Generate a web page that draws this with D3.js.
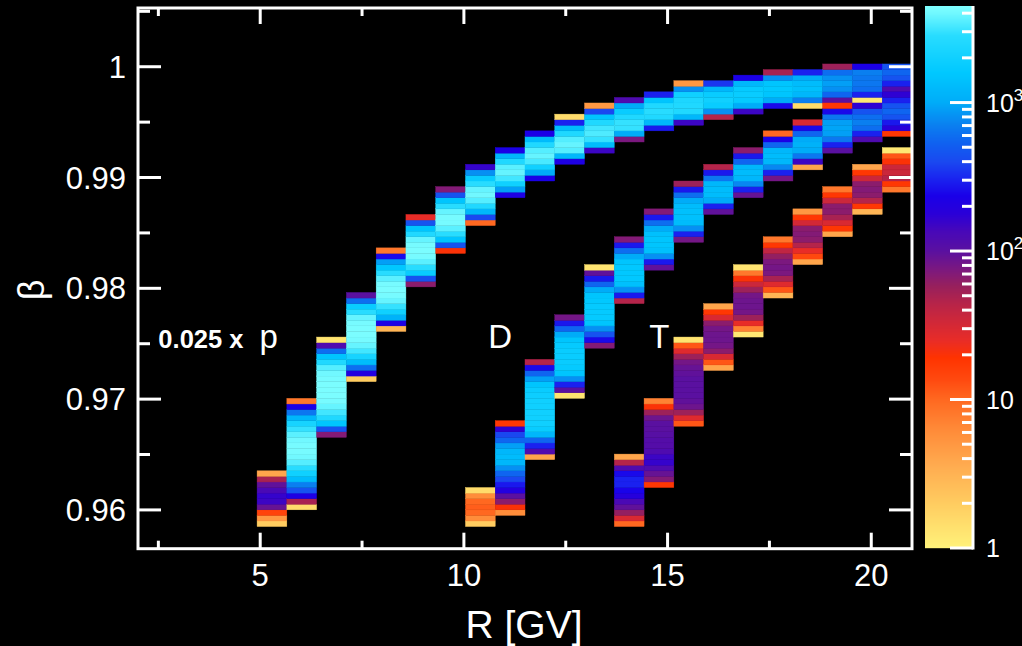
<!DOCTYPE html>
<html><head><meta charset="utf-8">
<script src="https://cdn.jsdelivr.net/npm/d3@7"></script>
<style>
html,body{margin:0;padding:0;background:#000;}
svg{display:block;}
text{font-family:"Liberation Sans",Arial,Helvetica,sans-serif;fill:#fff;}
</style>
</head><body>
<svg id="chart" width="1022" height="646"></svg>
<script>
// Rigidity binning: 26 equal bins between 2 and 21 GV
const R_RANGE = [2, 21];
const R_BINS = 26;
// Velocity binning: rows counted upward from BETA_BASE
const BETA_RANGE = [0.9565, 1.0053];
const BETA_BASE = 0.9585;
const BETA_BIN = 0.000503;

const xTicksMajor = [5, 10, 15, 20];
const xTicksMinor = [2.5, 7.5, 12.5, 17.5];
const yTicksMajor = [0.96, 0.97, 0.98, 0.99, 1.0];
const yTicksMinor = [0.965, 0.975, 0.985, 0.995, 1.005];
const yTickLabels = ["0.96", "0.97", "0.98", "0.99", "1"];

const COUNT_RANGE = [1, 4470];
const cbMajor = [1, 10, 100, 1000];
const cbMinor = [2,3,4,5,6,7,8,9,20,30,40,50,60,70,80,90,200,300,400,500,600,700,800,900,2000,3000,4000];
const cbLabels = [["1", ""], ["10", ""], ["10", "2"], ["10", "3"]];

// protons (scaled by 0.025): first rigidity bin, first beta row of each column, counts per row (bottom -> top)
const pFirstBin = 4;
const pStartRow = [0, 3, 16, 26, 35, 43, 49, 54, 59, 62, 65, 67, 69, 71, 72, 73, 74, 75, 75, 76, 76, 78];
const pCounts = [
  [2, 5, 15, 90, 150, 160, 130, 95, 50, 4],
  [1.5, 50, 220, 450, 700, 1300, 2000, 2800, 3500, 4000, 4200, 4200, 4000, 3600, 3000, 2200, 1200, 650, 230, 8],
  [70, 450, 1500, 2500, 3200, 3800, 4200, 4300, 4300, 4300, 4200, 4000, 3500, 2500, 1500, 600, 120, 1.3],
  [2, 200, 600, 1300, 2200, 3200, 3800, 4200, 4300, 4300, 4200, 3800, 2800, 1800, 600, 100],
  [3, 220, 1100, 2000, 3000, 3800, 4200, 4300, 4200, 3600, 2800, 1600, 900, 250, 8],
  [65, 450, 1800, 2800, 3600, 4200, 4300, 4200, 3800, 2500, 1500, 450, 25],
  [20, 450, 1500, 2800, 3600, 4200, 4200, 3800, 2800, 1500, 450, 70],
  [10, 400, 1200, 2500, 3500, 4000, 3800, 2800, 1800, 800, 160],
  [220, 900, 2000, 3200, 3800, 3600, 2500, 1200, 230],
  [230, 1000, 2000, 3300, 3800, 3500, 2500, 1300, 230],
  [220, 1200, 3500, 3800, 3500, 2500, 1300, 300, 1.5],
  [150, 1300, 3000, 3400, 3200, 2500, 1500, 400, 5],
  [75, 1000, 3000, 3000, 2500, 1800, 1000, 120],
  [280, 1200, 2500, 2800, 2500, 1500, 300],
  [150, 1200, 2500, 2500, 2400, 2000, 800, 5],
  [45, 800, 1800, 2000, 1800, 1200, 350],
  [150, 1000, 1700, 1800, 1700, 1200, 230],
  [250, 1000, 1500, 1600, 1500, 800, 50],
  [1.5, 700, 1200, 1400, 1300, 1000, 300],
  [100, 550, 800, 900, 800, 600, 55],
  [1.2, 300, 600, 650, 650, 700, 230],
  [120, 300, 450, 550, 450]
];

// deuterons
const dFirstBin = 11;
const dStartRow = [0, 2, 12, 23, 32, 40, 46, 51, 56, 59, 62, 64, 67, 69, 70];
const dCounts = [
  [2, 6, 10, 11, 10, 6, 1.5],
  [6, 20, 65, 100, 200, 280, 400, 550, 800, 1200, 1300, 1200, 900, 550, 400, 170, 18],
  [4, 120, 300, 550, 1200, 1800, 2000, 2000, 2000, 2000, 2000, 1900, 1800, 1500, 900, 550, 250, 45],
  [1.3, 100, 300, 800, 1500, 1700, 1800, 1800, 1800, 1700, 1500, 1000, 550, 280, 80],
  [70, 250, 450, 800, 1500, 1700, 1700, 1700, 1600, 1500, 1000, 550, 280, 95, 1.3],
  [45, 280, 800, 1400, 1600, 1600, 1600, 1500, 1000, 600, 280, 70],
  [95, 280, 800, 1400, 1500, 1500, 1400, 1000, 600, 280, 70],
  [80, 300, 800, 1300, 1400, 1400, 1300, 1000, 600, 280, 55],
  [95, 300, 1000, 1300, 1300, 1200, 650, 280, 45],
  [90, 300, 750, 1200, 1300, 1200, 550, 280, 65],
  [80, 300, 750, 1200, 1300, 1200, 550, 230, 10],
  [4, 150, 650, 1000, 1100, 1000, 550, 250, 30],
  [100, 300, 650, 900, 950, 900, 650, 250, 18],
  [120, 300, 600, 700, 600, 450, 170],
  [18, 180, 280, 450, 550, 450, 300, 170]
];

// tritons
const tFirstBin = 16;
const tStartRow = [0, 7, 18, 28, 34, 41, 47, 52, 56, 60];
const tCounts = [
  [10, 30, 60, 95, 130, 190, 240, 300, 300, 250, 120, 45, 4],
  [18, 70, 90, 120, 160, 150, 120, 110, 110, 105, 100, 100, 85, 55, 20, 7],
  [12, 28, 55, 85, 95, 100, 100, 100, 100, 95, 90, 80, 55, 28, 12, 1.3],
  [4, 12, 30, 65, 80, 85, 85, 80, 65, 30, 18, 4],
  [1.2, 7, 25, 55, 80, 85, 85, 80, 55, 35, 20, 8, 1.3],
  [3, 12, 28, 50, 75, 80, 75, 60, 40, 18, 8],
  [4, 14, 25, 45, 65, 70, 65, 32, 18, 5],
  [4, 18, 30, 50, 65, 65, 35, 18, 8],
  [3, 18, 45, 65, 70, 65, 35, 18, 4],
  [8, 18, 45, 35, 35, 20, 12, 1.2]
];

const speciesLabels = [
  {bold: "0.025 x", text: "p", r: 2.5, beta: 0.9746},
  {bold: "", text: "D", r: 10.6, beta: 0.9746},
  {bold: "", text: "T", r: 14.55, beta: 0.9746}
];

// colour table in log10(count)
const CMAP_LOG = [0, 0.3, 0.55, 0.8, 1.0, 1.13, 1.28, 1.4, 1.52, 1.64, 1.76, 1.88, 2.0, 2.13, 2.25, 2.37, 2.5, 2.6, 2.72, 2.85, 3.0, 3.2, 3.45, 3.6, 3.65];
const CMAP_COL = ["#fff27a", "#ffcc60", "#ffac50", "#ff8a38", "#ff6820", "#ff4a10", "#ff3300", "#e82c28", "#d02838", "#b82448", "#98205c", "#7a1880", "#5a10a0", "#4808b8", "#2a00d8", "#1a00e8", "#1a28f0", "#1a48f0", "#1060f0", "#0a80f0", "#00acf8", "#00c8ff", "#28dcff", "#70f8ff", "#80ffff"];

const svg = d3.select("#chart");
svg.append("rect").attr("width", 1022).attr("height", 646).attr("fill", "#000");

const frame = {left: 138, right: 912, top: 8, bottom: 548.7};
const x = d3.scaleLinear().domain(R_RANGE).range([frame.left, frame.right]);
const y = d3.scaleLinear().domain(BETA_RANGE).range([frame.bottom, frame.top]);
const cmap = d3.scaleLinear().domain(CMAP_LOG).range(CMAP_COL).clamp(true);
const color = c => cmap(Math.log10(c));

const rBin = (R_RANGE[1] - R_RANGE[0]) / R_BINS;

// histogram cells
const cells = [];
function addSpecies(firstBin, starts, counts) {
  counts.forEach((col, i) => {
    const k = firstBin + i;
    col.forEach((c, j) => {
      const row = starts[i] + j;
      cells.push({
        r0: R_RANGE[0] + k * rBin, r1: R_RANGE[0] + (k + 1) * rBin,
        b0: BETA_BASE + row * BETA_BIN, b1: BETA_BASE + (row + 1) * BETA_BIN,
        c
      });
    });
  });
}
addSpecies(pFirstBin, pStartRow, pCounts);
addSpecies(dFirstBin, dStartRow, dCounts);
addSpecies(tFirstBin, tStartRow, tCounts);

svg.append("g").selectAll("rect").data(cells).join("rect")
  .attr("x", d => x(d.r0))
  .attr("y", d => y(d.b1))
  .attr("width", d => x(d.r1) - x(d.r0))
  .attr("height", d => y(d.b0) - y(d.b1))
  .attr("fill", d => color(d.c))
  .attr("stroke", d => color(d.c))
  .attr("stroke-width", 0.4);

// frame and ticks
const axisG = svg.append("g").attr("stroke", "#fff").attr("stroke-width", 3).attr("fill", "none");
axisG.append("rect")
  .attr("x", frame.left).attr("y", frame.top)
  .attr("width", frame.right - frame.left).attr("height", frame.bottom - frame.top);

const xMajLen = 16, xMinLen = 8, yMajLen = 23, yMinLen = 12;
function xTick(v, len) {
  axisG.append("line").attr("x1", x(v)).attr("x2", x(v)).attr("y1", frame.bottom).attr("y2", frame.bottom - len);
  axisG.append("line").attr("x1", x(v)).attr("x2", x(v)).attr("y1", frame.top).attr("y2", frame.top + len);
}
function yTick(v, len) {
  axisG.append("line").attr("y1", y(v)).attr("y2", y(v)).attr("x1", frame.left).attr("x2", frame.left + len);
  axisG.append("line").attr("y1", y(v)).attr("y2", y(v)).attr("x1", frame.right).attr("x2", frame.right - len);
}
xTicksMajor.forEach(v => xTick(v, xMajLen));
xTicksMinor.forEach(v => xTick(v, xMinLen));
yTicksMajor.forEach(v => yTick(v, yMajLen));
yTicksMinor.forEach(v => yTick(v, yMinLen));

// tick labels
svg.append("g").selectAll("text").data(xTicksMajor).join("text")
  .attr("x", d => x(d)).attr("y", 586)
  .attr("text-anchor", "middle").attr("font-size", 31)
  .text(d => d);
svg.append("g").selectAll("text").data(yTicksMajor).join("text")
  .attr("x", 126).attr("y", d => y(d) + 11)
  .attr("text-anchor", "end").attr("font-size", 31)
  .text((d, i) => yTickLabels[i]);

// axis titles
svg.append("text").attr("x", 524).attr("y", 638).attr("text-anchor", "middle")
  .attr("font-size", 39).text("R [GV]");
svg.append("text").attr("transform", "translate(44,290) rotate(-90)")
  .attr("text-anchor", "middle").attr("font-size", 36).text("β");

// species labels
speciesLabels.forEach(s => {
  const t = svg.append("text").attr("x", x(s.r)).attr("y", y(s.beta));
  if (s.bold) {
    t.append("tspan").attr("font-weight", "bold").attr("font-size", 25.5).text(s.bold);
    t.append("tspan").attr("dx", 16).attr("font-size", 33).text(s.text);
  } else {
    t.attr("font-size", 33).text(s.text);
  }
});

// colour bar
const cb = {left: 925, right: 973, top: 6, bottom: 548};
const cy = d3.scaleLog().domain(COUNT_RANGE).range([cb.bottom, cb.top]);
const cbRows = d3.range(cb.top, cb.bottom, 1);
svg.append("g").selectAll("rect").data(cbRows).join("rect")
  .attr("x", cb.left).attr("y", d => d)
  .attr("width", cb.right - cb.left).attr("height", 1.2)
  .attr("fill", d => color(cy.invert(d + 0.5)));
const cbAxis = svg.append("g").attr("stroke", "#fff").attr("stroke-width", 3);
cbAxis.append("line").attr("x1", cb.right).attr("x2", cb.right).attr("y1", cb.top).attr("y2", cb.bottom + 1.5);
cbMajor.forEach(v => cbAxis.append("line").attr("x1", cb.right).attr("x2", cb.right - 23).attr("y1", cy(v)).attr("y2", cy(v)));
cbMinor.forEach(v => cbAxis.append("line").attr("x1", cb.right).attr("x2", cb.right - 11).attr("y1", cy(v)).attr("y2", cy(v)));
cbMajor.forEach((v, i) => {
  const t = svg.append("text").attr("x", 986).attr("y", cy(v) + 9).attr("font-size", 25);
  t.append("tspan").text(cbLabels[i][0]);
  if (cbLabels[i][1]) t.append("tspan").attr("dy", -11).attr("font-size", 17).text(cbLabels[i][1]);
});
</script>
</body></html>
